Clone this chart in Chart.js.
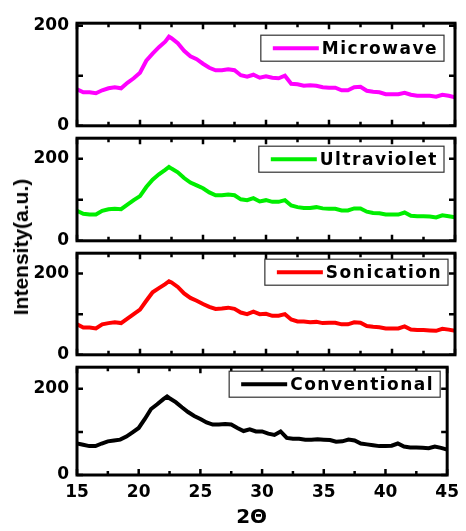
<!DOCTYPE html>
<html>
<head>
<meta charset="utf-8">
<script src="https://cdn.jsdelivr.net/npm/chart.js@4.4.1/dist/chart.umd.min.js"></script>
<style>
  html, body { margin: 0; padding: 0; background: #fff; }
  #wrap { position: relative; width: 466px; height: 531px; overflow: hidden; background: #fff; }
  canvas { position: absolute; left: 0; }
  #ylab { position: absolute; left: 21px; top: 247px; transform: translate(-50%, -50%) rotate(-90deg);
          white-space: nowrap; font: bold 21px "Liberation Sans", Arial, sans-serif; color: #000; }
</style>
</head>
<body>
<div id="wrap">
  <canvas id="c1" width="466" height="139" style="top:5px;width:466px;height:139px"></canvas>
  <canvas id="c2" width="466" height="139" style="top:120px;width:466px;height:139px"></canvas>
  <canvas id="c3" width="466" height="138" style="top:235px;width:466px;height:138px"></canvas>
  <canvas id="c4" width="466" height="182" style="top:349px;width:466px;height:182px"></canvas>
  <div id="ylab">Intensity(a.u.)</div>
</div>
<script>
// ---- data ----
const twoTheta = [15,15.5,16,16.5,17,17.5,18,18.5,19,19.5,20,20.5,21,21.5,22,22.3,22.5,23,23.5,24,24.5,25,25.5,26,26.5,27,27.5,28,28.5,29,29.5,30,30.5,31,31.5,32,32.5,33,33.5,34,34.5,35,35.5,36,36.5,37,37.5,38,38.5,39,39.5,40,40.5,41,41.5,42,42.5,43,43.5,44,44.5,45];
const microwave = [73,67,67,65,71,75,77,75,86,95,106,130,144,157,168,178,175,165,150,139,133,124,116,111,111,113,111,101,98,102,96,99,96,95,100,84,83,80,81,80,77,76,76,71,71,77,78,70,68,67,63,63,63,66,62,60,60,60,58,62,60,57];
const ultraviolet = [73,66,64,64,73,77,78,77,88,99,109,131,149,162,173,180,176,167,153,142,135,128,118,111,111,113,111,101,99,104,96,99,95,95,99,86,82,80,80,82,79,78,78,74,74,79,79,71,68,67,64,64,64,69,61,60,60,59,57,62,60,57];
const sonication = [75,67,67,65,75,78,80,78,89,100,111,133,154,164,174,181,178,167,151,140,133,125,118,113,114,116,113,104,100,106,100,101,96,96,100,87,82,82,80,81,78,79,79,75,75,80,79,71,69,68,65,65,65,70,62,61,61,60,59,64,62,59];
const conventional = [73,70,67,67,73,78,80,82,89,99,109,130,153,164,176,182,178,169,157,146,137,130,122,117,117,118,117,109,102,106,101,101,96,93,101,86,84,84,82,82,83,82,81,77,78,82,80,73,71,69,67,67,68,73,66,64,64,63,62,66,63,59];

const seriesNames = ['Microwave','Ultraviolet','Sonication','Conventional'];
const seriesValues = [microwave, ultraviolet, sonication, conventional];
const seriesColors = ['#ff00ff','#00ee00','#ff0000','#000000'];
const yMaxes = [205, 250, 250, 250];

const xTickValues = [15,20,25,30,35,40,45];
const xTickLabels = ['15','20','25','30','35','40','45'];
const xMinorTicks = [17.5,22.5,27.5,32.5,37.5,42.5];
const yTickValues = [0,100,200];
const yTickLabels = ['0','','200'];
const xTitle = '2\u0398';

// ---- plugins ----
const frameTicks = {
  id: 'frameTicks',
  afterDatasetsDraw(chart) {
    const {ctx, chartArea: a, scales} = chart;
    const xs = scales.x, ys = scales.y;
    ctx.save();
    ctx.strokeStyle = '#000';
    ctx.lineCap = 'butt';
    ctx.lineWidth = 2.5;
    const vt = (v, len) => {
      const px = xs.getPixelForValue(v);
      ctx.beginPath();
      ctx.moveTo(px, a.bottom); ctx.lineTo(px, a.bottom - len);
      ctx.moveTo(px, a.top); ctx.lineTo(px, a.top + len);
      ctx.stroke();
    };
    xTickValues.forEach(v => vt(v, 6));
    xMinorTicks.forEach(v => vt(v, 4));
    yTickValues.forEach(v => {
      const py = ys.getPixelForValue(v);
      ctx.beginPath();
      ctx.moveTo(a.left, py); ctx.lineTo(a.left + 6, py);
      ctx.moveTo(a.right, py); ctx.lineTo(a.right - 6, py);
      ctx.stroke();
    });
    ctx.lineWidth = 3;
    ctx.strokeRect(a.left, a.top, a.right - a.left, a.bottom - a.top);
    ctx.restore();
  }
};

const boxLegend = {
  id: 'boxLegend',
  afterDraw(chart, args, opts) {
    const {ctx, chartArea: a} = chart;
    const ds = chart.data.datasets[0];
    ctx.save();
    ctx.font = 'bold 17px "DejaVu Sans", sans-serif';
    ctx.letterSpacing = '1.5px';
    const tw = ctx.measureText(ds.label).width;
    const lineLen = 46, padL = 12, gap = 3, padR = 6;
    const w = padL + lineLen + gap + tw + padR;
    const h = 26;
    const right = a.right - opts.rightInset;
    const left = right - w;
    const top = a.top + opts.topInset;
    ctx.fillStyle = '#fff';
    ctx.fillRect(left, top, w, h);
    ctx.strokeStyle = '#333';
    ctx.lineWidth = 1.2;
    ctx.strokeRect(left, top, w, h);
    const cy = top + h / 2;
    ctx.strokeStyle = ds.borderColor;
    ctx.lineWidth = 4;
    ctx.beginPath();
    ctx.moveTo(left + padL, cy); ctx.lineTo(left + padL + lineLen, cy);
    ctx.stroke();
    ctx.fillStyle = '#000';
    ctx.textBaseline = 'middle';
    ctx.textAlign = 'left';
    ctx.fillText(ds.label, left + padL + lineLen + gap, cy + 1);
    ctx.restore();
  }
};

const legendPos = [
  {rightInset: 11, topInset: 12},
  {rightInset: 11, topInset: 8},
  {rightInset: 7, topInset: 6},
  {rightInset: 7, topInset: 4}
];

const tickFont = {family: '"DejaVu Sans", sans-serif', size: 17, weight: 'bold'};

function makeChart(i) {
  const isLast = i === 3;
  const points = twoTheta.map((t, k) => ({x: t, y: seriesValues[i][k]}));
  return new Chart(document.getElementById('c' + (i + 1)), {
    type: 'line',
    data: {
      datasets: [{
        label: seriesNames[i],
        data: points,
        borderColor: seriesColors[i],
        backgroundColor: seriesColors[i],
        borderWidth: 4,
        pointRadius: 0,
        tension: 0,
        fill: false
      }]
    },
    options: {
      responsive: false,
      animation: false,
      devicePixelRatio: 1,
      events: [],
      layout: {padding: {left: 0, right: 11, top: 12, bottom: isLast ? 0 : 12}},
      plugins: {
        legend: {display: false},
        tooltip: {enabled: false},
        boxLegend: legendPos[i]
      },
      scales: {
        x: {
          type: 'linear',
          min: 15, max: 45,
          display: isLast,
          grid: {display: false, drawTicks: false},
          border: {display: false},
          afterBuildTicks: s => { s.ticks = xTickValues.map(v => ({value: v})); },
          afterFit: s => { if (isLast) s.height = 56; },
          ticks: {
            color: '#000',
            font: tickFont,
            padding: 7,
            maxRotation: 0,
            autoSkip: false,
            callback: (v) => xTickLabels[xTickValues.indexOf(v)]
          },
          title: {
            display: true,
            text: xTitle + '   ',
            color: '#000',
            font: {family: '"DejaVu Sans", sans-serif', size: 20, weight: 'bold'},
            padding: {top: 0, bottom: 1}
          }
        },
        y: {
          type: 'linear',
          min: 0, max: yMaxes[i],
          grid: {display: false, drawTicks: false},
          border: {display: false},
          afterBuildTicks: s => { s.ticks = yTickValues.map(v => ({value: v})); },
          afterFit: s => { s.width = 77; },
          ticks: {
            color: '#000',
            font: tickFont,
            padding: 8,
            autoSkip: false,
            callback: (v) => yTickLabels[yTickValues.indexOf(v)]
          }
        }
      }
    },
    plugins: [frameTicks, boxLegend]
  });
}

[0, 1, 2, 3].forEach(makeChart);
</script>
</body>
</html>
